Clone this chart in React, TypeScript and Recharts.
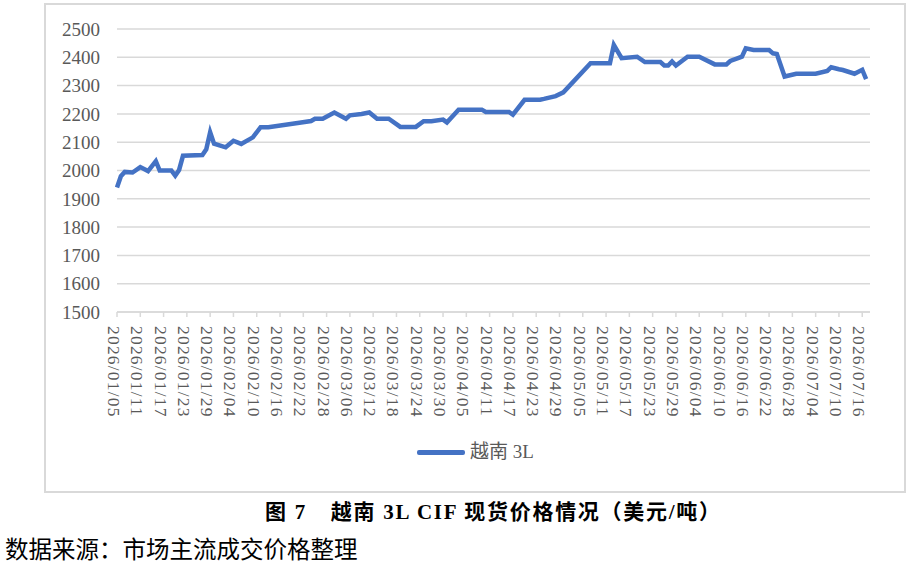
import React from "react";
import { LineChart, Line, XAxis, YAxis, CartesianGrid, Legend } from "recharts";

// 2026 trade dates (MM/DD) and Vietnam 3L CIF spot price, USD/t
const dates = [
  "01/05", "01/06", "01/07", "01/09", "01/11", "01/13", "01/15", "01/16", "01/19", "01/20",
  "01/21", "01/22", "01/27", "01/28", "01/29", "01/30", "02/02", "02/04", "02/06", "02/09",
  "02/11", "02/13", "02/21", "02/24", "02/25", "02/27", "03/02", "03/05", "03/06", "03/09",
  "03/11", "03/13", "03/16", "03/19", "03/23", "03/25", "03/27", "03/30", "03/31", "04/02",
  "04/03", "04/09", "04/10", "04/16", "04/17", "04/20", "04/24", "04/25", "04/28", "04/30",
  "05/07", "05/12", "05/13", "05/15", "05/19", "05/21", "05/25", "05/26", "05/27", "05/28",
  "05/29", "06/01", "06/04", "06/08", "06/11", "06/12", "06/14", "06/15", "06/16", "06/18",
  "06/22", "06/23", "06/24", "06/26", "06/29", "07/04", "07/07", "07/08", "07/10", "07/11",
  "07/14", "07/16", "07/17",
];
const prices = [
  1940, 1980, 1995, 1993, 2012, 1998, 2033, 2000, 2000, 1982,
  2002, 2052, 2055, 2075, 2135, 2095, 2082, 2105, 2094, 2117,
  2153, 2153, 2169, 2175, 2183, 2183, 2205, 2183, 2195, 2200,
  2205, 2183, 2183, 2154, 2154, 2174, 2174, 2180, 2170, 2200,
  2215, 2215, 2207, 2207, 2197, 2250, 2250, 2253, 2263, 2276,
  2379, 2379, 2444, 2397, 2402, 2383, 2383, 2371, 2371, 2385,
  2371, 2402, 2402, 2375, 2375, 2387, 2397, 2402, 2432, 2426,
  2426, 2414, 2412, 2332, 2342, 2342, 2352, 2365, 2358, 2355,
  2342, 2356, 2323,
];
const yTicks = [1500, 1600, 1700, 1800, 1900, 2000, 2100, 2200, 2300, 2400, 2500];
const tickDates = [
  "01/05", "01/11", "01/17", "01/23", "01/29", "02/04", "02/10", "02/16", "02/22", "02/28",
  "03/06", "03/12", "03/18", "03/24", "03/30", "04/05", "04/11", "04/17", "04/23", "04/29",
  "05/05", "05/11", "05/17", "05/23", "05/29", "06/04", "06/10", "06/16", "06/22", "06/28",
  "07/04", "07/10", "07/16",
];

const YEAR = 2026;
const DAY = 86400000;
const start = Date.UTC(YEAR, 0, 5);
const toDay = (md: string) => {
  const [m, d] = md.split("/").map(Number);
  return Math.round((Date.UTC(YEAR, m - 1, d) - start) / DAY);
};
const fmt = (day: number) => {
  const dt = new Date(start + day * DAY);
  const mm = String(dt.getUTCMonth() + 1).padStart(2, "0");
  const dd = String(dt.getUTCDate()).padStart(2, "0");
  return `${YEAR}/${mm}/${dd}`;
};

const data = dates.map((d, i) => ({ day: toDay(d), price: prices[i] }));
const xTicks = tickDates.map(toDay);

const BLUE = "#4472C4";
const GRAY = "#595959";
const SERIF = '"Liberation Serif", "Times New Roman", "Noto Sans CJK SC", serif';

const DateTick = (props: any) => {
  const { x, y, payload } = props;
  return (
    <text
      x={x}
      y={y}
      dy={9}
      transform={`rotate(90, ${x}, ${y})`}
      textAnchor="start"
      fill={GRAY}
      fontSize={17.5}
      letterSpacing={1.2}
      fontFamily={SERIF}
    >
      {fmt(payload.value)}
    </text>
  );
};

const LegendBox = () => (
  <div style={{ display: "flex", alignItems: "center" }}>
    <span style={{ display: "inline-block", width: 48, height: 5, background: BLUE, borderRadius: 2 }} />
    <span style={{ marginLeft: 5, color: GRAY, fontSize: 19, fontFamily: SERIF, lineHeight: "22px" }}>越南 3L</span>
  </div>
);

export default function App() {
  return (
    <div style={{ position: "absolute", left: 0, top: 0, width: 920, height: 569, background: "#fff" }}>
      <div
        style={{
          position: "absolute", left: 44, top: 3, width: 862, height: 490,
          border: "2px solid #d9d9d9", boxSizing: "border-box",
        }}
      />
      <div style={{ position: "absolute", left: 0, top: 0 }}>
        <LineChart width={920} height={569} data={data} margin={{ top: 29, right: 50, left: 0, bottom: 157 }}>
          <CartesianGrid vertical={false} stroke="#d9d9d9" strokeWidth={1.5} />
          <XAxis
            dataKey="day"
            type="number"
            domain={[0, 194]}
            ticks={xTicks}
            interval={0}
            height={100}
            tick={<DateTick />}
            tickSize={5}
            tickMargin={9}
            axisLine={{ stroke: "#d9d9d9", strokeWidth: 1.5 }}
            tickLine={{ stroke: "#d9d9d9", strokeWidth: 1.5 }}
          />
          <YAxis
            type="number"
            domain={[1500, 2500]}
            ticks={yTicks}
            interval={0}
            width={117}
            axisLine={false}
            tickLine={false}
            tickSize={0}
            tickMargin={17}
            tick={{ fill: GRAY, fontSize: 19, fontFamily: SERIF }}
          />
          <Legend
            layout="vertical"
            align="center"
            verticalAlign="middle"
            content={<LegendBox />}
            wrapperStyle={{ left: 417, top: 441, bottom: "auto", width: "auto" }}
          />
          <Line
            type="linear"
            dataKey="price"
            name="越南 3L"
            stroke={BLUE}
            strokeWidth={4.5}
            dot={false}
            isAnimationActive={false}
          />
        </LineChart>
      </div>
      <div
        style={{
          position: "absolute", left: 265, top: 502, fontSize: 21, lineHeight: "21px",
          fontWeight: "bold", color: "#000", whiteSpace: "pre", fontFamily: SERIF, letterSpacing: "1.7px",
        }}
      >
        图 7<span style={{ marginLeft: 24 }}>越南 3L CIF 现货价格情况（美元/吨）</span>
      </div>
      <div
        style={{
          position: "absolute", left: 5, top: 536, fontSize: 23.5, lineHeight: "24px",
          color: "#000", whiteSpace: "pre", fontFamily: '"Noto Sans CJK SC", sans-serif',
        }}
      >
        数据来源：市场主流成交价格整理
      </div>
    </div>
  );
}
